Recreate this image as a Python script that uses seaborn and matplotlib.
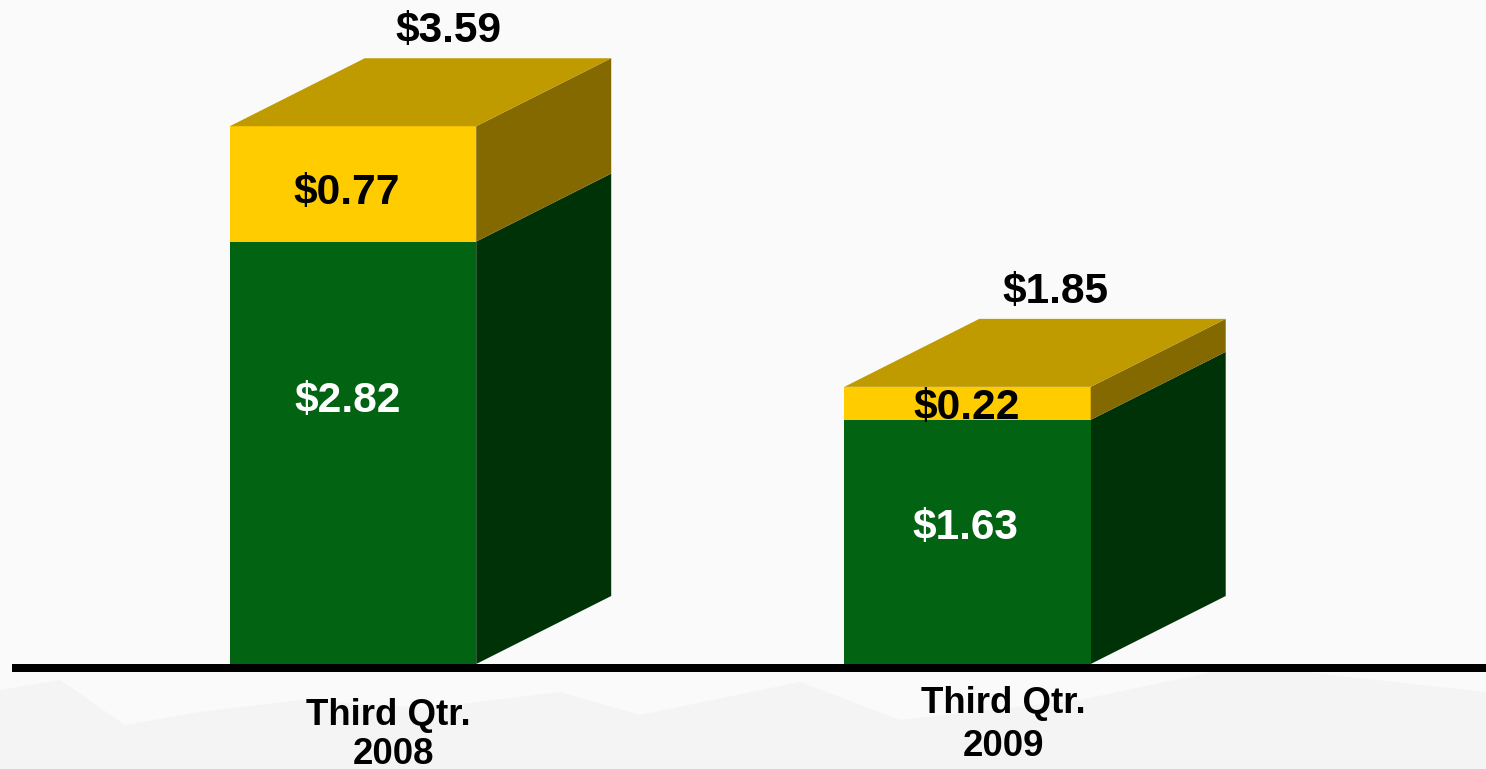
import matplotlib
matplotlib.use('Agg')
import matplotlib.pyplot as plt
import pandas as pd
import seaborn as sns
from matplotlib.patches import Polygon

quarters = ['Third Qtr.\n2008', 'Third Qtr.\n2009']
lower_values = [2.82, 1.63]
upper_values = [0.77, 0.22]
total_values = [3.59, 1.85]

GREEN = '#026312'
GREEN_SIDE = '#003208'
YELLOW = '#ffcc00'
YELLOW_SIDE = '#846800'
YELLOW_TOP = '#c09b00'
BACKGROUND = '#f9faf9'
HILLS = '#f3f4f3'

W, H = 1486, 769
BASE_Y = 664
PX_PER_UNIT = 149.8
PX_PER_CAT = 614.5
BAR_WIDTH = 0.401
DEPTH_X = 135 / PX_PER_CAT
DEPTH_Y = 68 / PX_PER_UNIT

sns.set_theme(style='white')
plt.rcParams['font.family'] = ['Liberation Sans', 'DejaVu Sans']

df = pd.DataFrame({'quarter': quarters, 'lower': lower_values, 'upper': upper_values, 'total': total_values})

fig = plt.figure(figsize=(W / 100, H / 100), dpi=100, facecolor=BACKGROUND)
ax = fig.add_axes([0, 0, 1, 1])
ax.set_facecolor(BACKGROUND)


def fx(px):
    return px / W


def fy(py):
    return 1 - py / H


# faint hills behind the bottom of the slide
hills_x = [0, 60, 125, 200, 300, 430, 560, 640, 800, 900, 1080, 1250, 1330, 1486, 1486, 0]
hills_y = [690, 680, 725, 712, 700, 708, 692, 715, 682, 720, 700, 664, 675, 692, 769, 769]
ax.add_patch(Polygon([(fx(a), fy(b)) for a, b in zip(hills_x, hills_y)], closed=True,
                     transform=ax.transAxes, facecolor=HILLS, edgecolor='none', zorder=0))

# whole bar in yellow, lower part painted over it in green
sns.barplot(data=df, x='quarter', y='total', color=YELLOW, saturation=1, width=BAR_WIDTH,
            linewidth=0, edgecolor='none', ax=ax, zorder=2)
sns.barplot(data=df, x='quarter', y='lower', color=GREEN, saturation=1, width=BAR_WIDTH,
            linewidth=0, edgecolor='none', ax=ax, zorder=3)

ax.set_xlim(-353 / PX_PER_CAT, (W - 353) / PX_PER_CAT)
ax.set_ylim(-(H - BASE_Y) / PX_PER_UNIT, BASE_Y / PX_PER_UNIT)
ax.axis('off')

# extruded side and top faces, same scale as the bars
for i, q in enumerate(quarters):
    right = i + BAR_WIDTH / 2
    left = i - BAR_WIDTH / 2
    low = lower_values[i]
    tot = total_values[i]
    ax.add_patch(Polygon([(right, 0), (right + DEPTH_X, DEPTH_Y), (right + DEPTH_X, low + DEPTH_Y), (right, low)],
                         closed=True, facecolor=GREEN_SIDE, edgecolor='none', zorder=2))
    ax.add_patch(Polygon([(right, low), (right + DEPTH_X, low + DEPTH_Y), (right + DEPTH_X, tot + DEPTH_Y), (right, tot)],
                         closed=True, facecolor=YELLOW_SIDE, edgecolor='none', zorder=2))
    ax.add_patch(Polygon([(left, tot), (right, tot), (right + DEPTH_X, tot + DEPTH_Y), (left + DEPTH_X, tot + DEPTH_Y)],
                         closed=True, facecolor=YELLOW_TOP, edgecolor='none', zorder=2))

# baseline
ax.plot([fx(12), 1], [fy(668), fy(668)], transform=ax.transAxes, color='black', lw=8 * 72 / 100,
        solid_capstyle='butt', zorder=5)

label_kw = dict(transform=ax.transAxes, ha='center', va='center', fontweight='bold', zorder=6)
big = 30.6
small = 26.4

ax.text(fx(448), fy(31), f'${total_values[0]:.2f}', color='black', fontsize=big, **label_kw)
ax.text(fx(1055), fy(292), f'${total_values[1]:.2f}', color='black', fontsize=big, **label_kw)
ax.text(fx(346.5), fy(193), f'${upper_values[0]:.2f}', color='black', fontsize=big, **label_kw)
ax.text(fx(966.5), fy(408), f'${upper_values[1]:.2f}', color='black', fontsize=big, **label_kw)
ax.text(fx(347.5), fy(401), f'${lower_values[0]:.2f}', color='white', fontsize=big, **label_kw)
ax.text(fx(965.5), fy(528), f'${lower_values[1]:.2f}', color='white', fontsize=big, **label_kw)

# the two lines of each category label sit slightly off each other
cat_kw = dict(transform=ax.transAxes, ha='center', va='baseline', fontweight='bold', color='black',
              fontsize=small, zorder=6)
first_line, second_line = quarters[0].split('\n')
ax.text(fx(388.5), fy(725), first_line, **cat_kw)
ax.text(fx(394), fy(764), second_line, **cat_kw)
first_line, second_line = quarters[1].split('\n')
ax.text(fx(1003.5), fy(713), first_line, **cat_kw)
ax.text(fx(1004), fy(756), second_line, **cat_kw)

fig.savefig('out.png', dpi=100, facecolor=BACKGROUND)
